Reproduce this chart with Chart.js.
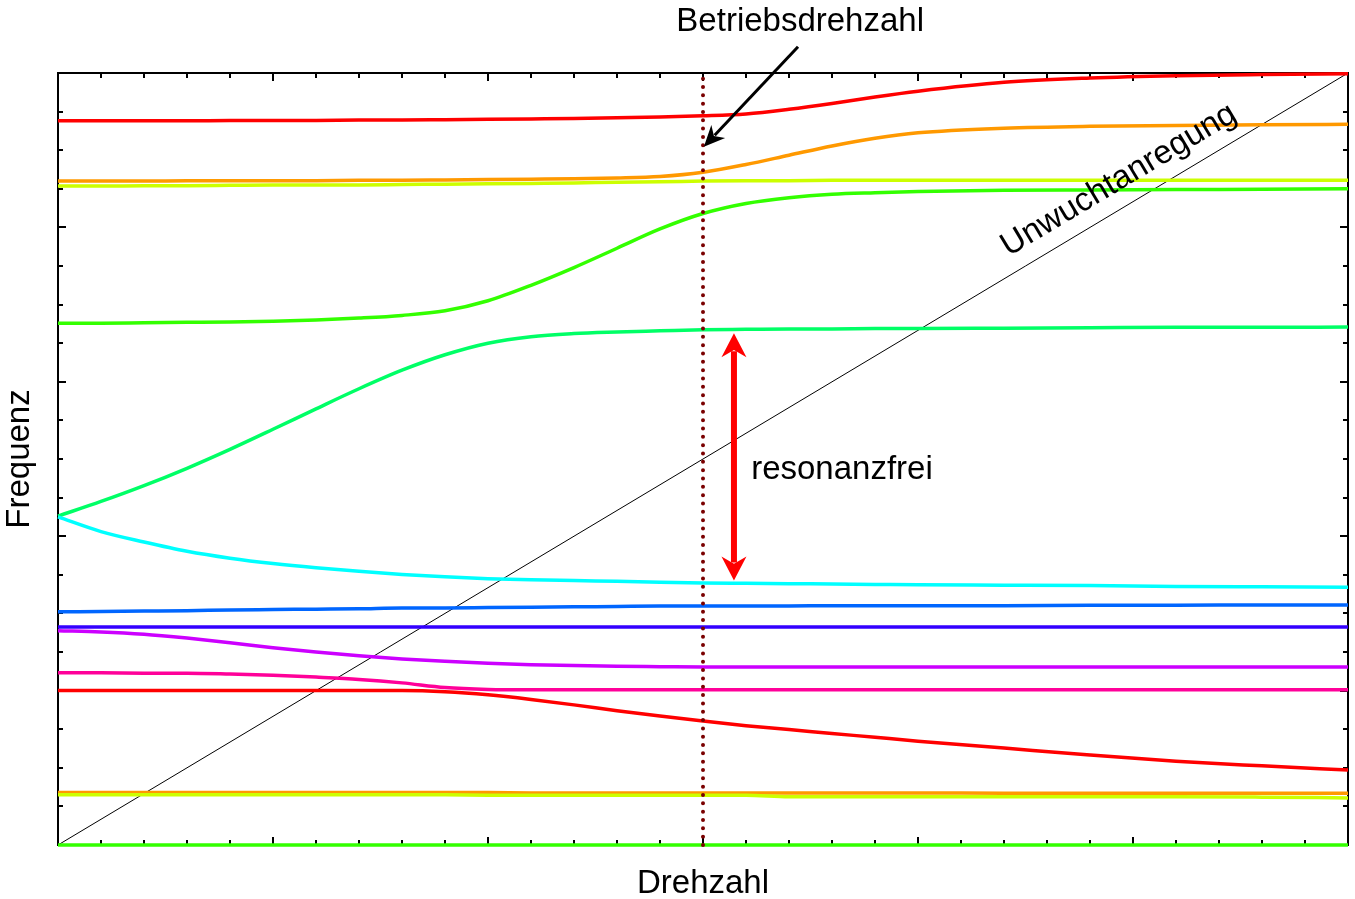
<!DOCTYPE html>
<html>
<head>
<meta charset="utf-8">
<script src="https://cdn.jsdelivr.net/npm/chart.js@4.4.1/dist/chart.umd.min.js"></script>
<style>
  html, body { margin: 0; padding: 0; background: #fff; }
</style>
</head>
<body>
<canvas id="grafico" width="1355" height="899"></canvas>
<script>
// Drehzahl-Stuetzstellen (gemeinsam fuer alle Eigenfrequenzen)
const drehzahl = [0, 1, 2, 3, 4, 5, 6, 7, 8, 9, 10, 11, 12, 13, 14, 15, 16, 17, 18, 19, 20, 22, 24, 26, 28, 30]

// Eigenfrequenzen, von oben nach unten
const rotOben = [18.76, 18.76, 18.76, 18.76, 18.77, 18.77, 18.77, 18.78, 18.78, 18.79, 18.80, 18.81, 18.82, 18.84, 18.86, 18.89, 18.94, 19.06, 19.21, 19.38, 19.53, 19.76, 19.87, 19.93, 19.96, 19.98]
const orangeOben = [17.20, 17.20, 17.20, 17.21, 17.21, 17.21, 17.21, 17.22, 17.22, 17.23, 17.24, 17.25, 17.26, 17.28, 17.32, 17.43, 17.63, 17.87, 18.11, 18.31, 18.45, 18.57, 18.62, 18.64, 18.66, 18.67]
const gelbOben = [17.07, 17.07, 17.08, 17.08, 17.09, 17.10, 17.10, 17.10, 17.11, 17.12, 17.13, 17.14, 17.15, 17.17, 17.18, 17.20, 17.21, 17.21, 17.22, 17.22, 17.22, 17.22, 17.22, 17.22, 17.22, 17.22]
const gruenOben = [13.52, 13.52, 13.53, 13.54, 13.55, 13.57, 13.60, 13.65, 13.72, 13.84, 14.10, 14.50, 14.96, 15.46, 15.96, 16.36, 16.62, 16.77, 16.86, 16.90, 16.93, 16.96, 16.97, 16.98, 16.99, 17.00]
const fruehlingsgruen = [8.52, 8.90, 9.31, 9.76, 10.25, 10.77, 11.30, 11.82, 12.30, 12.70, 13.00, 13.17, 13.25, 13.29, 13.32, 13.35, 13.36, 13.37, 13.37, 13.38, 13.38, 13.39, 13.40, 13.41, 13.41, 13.42]
const cyan = [8.50, 8.12, 7.85, 7.61, 7.43, 7.29, 7.18, 7.09, 7.01, 6.95, 6.90, 6.87, 6.85, 6.83, 6.81, 6.79, 6.78, 6.77, 6.76, 6.75, 6.74, 6.73, 6.72, 6.70, 6.69, 6.68]
const blau = [6.04, 6.05, 6.06, 6.07, 6.09, 6.10, 6.11, 6.12, 6.14, 6.14, 6.15, 6.16, 6.17, 6.18, 6.19, 6.19, 6.19, 6.19, 6.20, 6.20, 6.20, 6.20, 6.21, 6.21, 6.22, 6.22]
const dunkelblau = [5.65, 5.65, 5.65, 5.65, 5.65, 5.65, 5.65, 5.65, 5.65, 5.65, 5.65, 5.65, 5.65, 5.65, 5.65, 5.65, 5.65, 5.65, 5.65, 5.65, 5.65, 5.65, 5.65, 5.65, 5.65, 5.65]
const violett = [5.55, 5.52, 5.46, 5.36, 5.24, 5.11, 5.00, 4.90, 4.82, 4.76, 4.71, 4.67, 4.65, 4.63, 4.62, 4.61, 4.61, 4.61, 4.61, 4.61, 4.61, 4.61, 4.61, 4.61, 4.61, 4.61]
const pink = [4.46, 4.46, 4.45, 4.45, 4.43, 4.40, 4.35, 4.29, 4.20, 4.08, 4.03, 4.02, 4.02, 4.02, 4.02, 4.02, 4.02, 4.02, 4.02, 4.02, 4.02, 4.02, 4.02, 4.02, 4.02, 4.02]
const rotUnten = [4.00, 4.00, 4.00, 4.00, 4.00, 4.00, 4.00, 4.00, 4.00, 3.97, 3.89, 3.77, 3.63, 3.48, 3.34, 3.21, 3.09, 2.99, 2.89, 2.79, 2.69, 2.51, 2.33, 2.17, 2.05, 1.94]
const orangeUnten = [1.36, 1.36, 1.36, 1.36, 1.36, 1.36, 1.36, 1.36, 1.36, 1.36, 1.36, 1.35, 1.35, 1.35, 1.35, 1.35, 1.35, 1.35, 1.35, 1.35, 1.35, 1.34, 1.34, 1.34, 1.34, 1.34]
const gelbUnten = [1.30, 1.30, 1.30, 1.30, 1.30, 1.30, 1.30, 1.30, 1.30, 1.30, 1.29, 1.29, 1.29, 1.29, 1.29, 1.29, 1.29, 1.25, 1.25, 1.25, 1.25, 1.25, 1.25, 1.25, 1.24, 1.22]
const gruenUnten = [0, 0, 0, 0, 0, 0, 0, 0, 0, 0, 0, 0, 0, 0, 0, 0, 0, 0, 0, 0, 0, 0, 0, 0, 0, 0]

// Unwuchtanregung (1. Ordnung) und Betriebsdrehzahl
const unwuchtX = [0, 30]
const unwuchtY = [0, 20]
const betriebsdrehzahl = 15

// Skalenstriche
const drehzahlTicks = [0, 1, 2, 3, 4, 5, 6, 7, 8, 9, 10, 11, 12, 13, 14, 15, 16, 17, 18, 19, 20, 21, 22, 23, 24, 25, 26, 27, 28, 29, 30]
const drehzahlHaupt = [0, 5, 10, 15, 20, 25, 30]
const frequenzTicks = [0, 1, 2, 3, 4, 5, 6, 7, 8, 9, 10, 11, 12, 13, 14, 15, 16, 17, 18, 19, 20]
const frequenzHaupt = [0, 4, 8, 12, 16, 20]

const schrift = '"Liberation Sans", Arial, Helvetica, sans-serif'
Chart.defaults.font.family = schrift

const punkte = (ys) => drehzahl.map((x, i) => ({ x: x, y: ys[i] }))

const moden = [
    [rotOben, '#ff0000'],
    [orangeOben, '#ff9900'],
    [gelbOben, '#ccff00'],
    [gruenOben, '#33ff00'],
    [fruehlingsgruen, '#00ff66'],
    [cyan, '#00ffff'],
    [blau, '#0066ff'],
    [dunkelblau, '#3300ff'],
    [violett, '#cc00ff'],
    [pink, '#ff0099'],
    [rotUnten, '#ff0000'],
    [orangeUnten, '#ff9900'],
    [gelbUnten, '#ccff00'],
    [gruenUnten, '#33ff00']
]

let datasets = moden.map(([werte, farbe], i) => ({
    data: punkte(werte),
    borderColor: farbe,
    borderWidth: 3.5,
    cubicInterpolationMode: 'monotone',
    clip: false,
    order: 20 - i
}))

datasets.push({
    data: unwuchtX.map((x, i) => ({ x: x, y: unwuchtY[i] })),
    borderColor: '#000000',
    borderWidth: 1,
    clip: false,
    order: 50
})

datasets.push({
    data: [{ x: betriebsdrehzahl, y: 0 }, { x: betriebsdrehzahl, y: 20 }],
    borderColor: '#7a0000',
    borderWidth: 4,
    borderDash: [0, 8.33],
    borderCapStyle: 'round',
    clip: false,
    order: 0
})

// Rahmen mit nach innen zeigenden Skalenstrichen
const rahmen = {
    id: 'rahmen',
    beforeDatasetsDraw(chart) {
        const { ctx, chartArea: a, scales: { x, y } } = chart
        ctx.save()
        ctx.strokeStyle = '#000'
        ctx.lineWidth = 2
        ctx.strokeRect(a.left, a.top, a.right - a.left, a.bottom - a.top)
        ctx.beginPath()
        drehzahlTicks.forEach(v => {
            const px = Math.round(x.getPixelForValue(v))
            const len = drehzahlHaupt.includes(v) ? 8 : 5
            ctx.moveTo(px, a.bottom); ctx.lineTo(px, a.bottom - len)
            ctx.moveTo(px, a.top); ctx.lineTo(px, a.top + len)
        })
        frequenzTicks.forEach(v => {
            const py = Math.round(y.getPixelForValue(v))
            const len = frequenzHaupt.includes(v) ? 8 : 5
            ctx.moveTo(a.left, py); ctx.lineTo(a.left + len, py)
            ctx.moveTo(a.right, py); ctx.lineTo(a.right - len, py)
        })
        ctx.stroke()
        ctx.restore()
    }
}

function pfeilspitze(ctx, x1, y1, x2, y2, len, halb) {
    const w = Math.atan2(y2 - y1, x2 - x1)
    const c = Math.cos(w), s = Math.sin(w)
    ctx.beginPath()
    ctx.moveTo(x2, y2)
    ctx.lineTo(x2 - len * c - halb * s, y2 - len * s + halb * c)
    ctx.lineTo(x2 - len * 0.7 * c, y2 - len * 0.7 * s)
    ctx.lineTo(x2 - len * c + halb * s, y2 - len * s - halb * c)
    ctx.closePath()
    ctx.fill()
}

function pfeil(ctx, x1, y1, x2, y2, farbe, breite, len, halb, doppelt) {
    const d = Math.hypot(x2 - x1, y2 - y1)
    const ux = (x2 - x1) / d, uy = (y2 - y1) / d
    ctx.save()
    ctx.strokeStyle = farbe
    ctx.fillStyle = farbe
    ctx.lineWidth = breite
    ctx.beginPath()
    const k = len * 0.75
    ctx.moveTo(doppelt ? x1 + ux * k : x1, doppelt ? y1 + uy * k : y1)
    ctx.lineTo(x2 - ux * k, y2 - uy * k)
    ctx.stroke()
    pfeilspitze(ctx, x1, y1, x2, y2, len, halb)
    if (doppelt) pfeilspitze(ctx, x2, y2, x1, y1, len, halb)
    ctx.restore()
}

// Beschriftungen und Pfeile (Positionen in Achsenwerten)
const beschriftung = {
    id: 'beschriftung',
    afterDatasetsDraw(chart) {
        const { ctx, scales: { x, y } } = chart
        ctx.save()
        ctx.fillStyle = '#000'
        ctx.font = '33px ' + schrift
        ctx.textBaseline = 'alphabetic'

        ctx.textAlign = 'center'
        ctx.fillText('Betriebsdrehzahl', x.getPixelForValue(17.26), y.getPixelForValue(21.1))

        pfeil(ctx, x.getPixelForValue(17.21), y.getPixelForValue(20.68),
            x.getPixelForValue(15.02), y.getPixelForValue(18.09), '#000', 3, 21, 9.5, false)

        pfeil(ctx, x.getPixelForValue(15.72), y.getPixelForValue(13.26),
            x.getPixelForValue(15.72), y.getPixelForValue(6.85), '#ff0000', 6, 24, 12.5, true)

        ctx.textAlign = 'left'
        ctx.fillText('resonanzfrei', x.getPixelForValue(16.12), y.getPixelForValue(9.48))

        const x0 = x.getPixelForValue(unwuchtX[0]), y0 = y.getPixelForValue(unwuchtY[0])
        const x1 = x.getPixelForValue(unwuchtX[1]), y1 = y.getPixelForValue(unwuchtY[1])
        ctx.translate(x.getPixelForValue(24.78), y.getPixelForValue(17.02))
        ctx.rotate(Math.atan2(y1 - y0, x1 - x0))
        ctx.textAlign = 'center'
        ctx.fillText('Unwuchtanregung', 0, 0)
        ctx.restore()
    }
}

const contexto = document.getElementById('grafico').getContext('2d')

const grafico = new Chart(contexto, {
    type: 'line',
    data: { datasets: datasets },
    options: {
        responsive: false,
        animation: false,
        events: [],
        layout: { padding: { left: 0, right: 7, top: 73, bottom: 0 } },
        elements: { point: { radius: 0 } },
        plugins: { legend: { display: false }, tooltip: { enabled: false } },
        scales: {
            x: {
                type: 'linear',
                min: 0,
                max: 30,
                ticks: { display: false },
                grid: { display: false, drawTicks: false },
                border: { display: false },
                title: {
                    display: true,
                    text: 'Drehzahl',
                    color: '#000',
                    font: { size: 33, lineHeight: 1 },
                    padding: { top: 22, bottom: -1 }
                }
            },
            y: {
                type: 'linear',
                min: 0,
                max: 20,
                ticks: { display: false },
                grid: { display: false, drawTicks: false },
                border: { display: false },
                title: {
                    display: true,
                    text: 'Frequenz',
                    color: '#000',
                    font: { size: 33, lineHeight: 1 },
                    padding: { top: 3.5, bottom: 21.5 }
                }
            }
        }
    },
    plugins: [rahmen, beschriftung]
})
</script>
</body>
</html>
